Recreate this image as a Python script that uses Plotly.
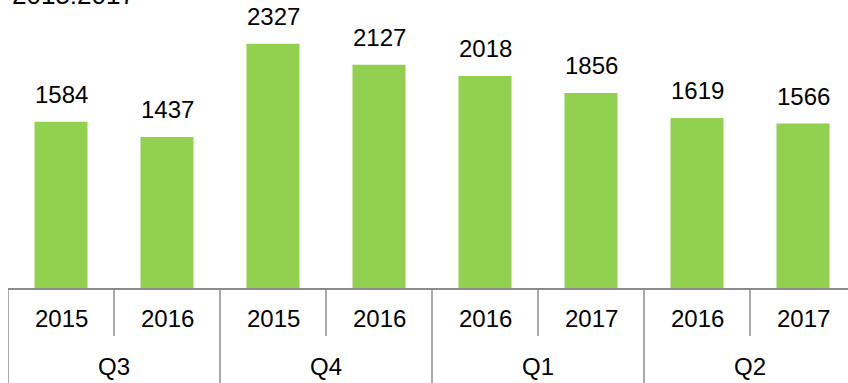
import plotly.graph_objects as go

# Quarterly figures, grouped by quarter then year
quarters = ["Q3", "Q3", "Q4", "Q4", "Q1", "Q1", "Q2", "Q2"]
years = ["2015", "2016", "2015", "2016", "2016", "2017", "2016", "2017"]
values = [1584, 1437, 2327, 2127, 2018, 1856, 1619, 1566]
group_labels = ["Q3", "Q4", "Q1", "Q2"]
title_text = "2015:2017"

BAR_COLOR = "#92D050"
LINE_COLOR = "#8C8C8C"
FONT = "Liberation Sans, Arial, sans-serif"

W, H = 848, 383
ML, MB = 8, 95
plot_h = H - MB

x_idx = list(range(len(values)))

fig = go.Figure(
    go.Bar(
        x=x_idx,
        y=values,
        marker=dict(color=BAR_COLOR, line=dict(width=0)),
        hoverinfo="skip",
    )
)

annotations = []
# value labels above bars
for i, v in zip(x_idx, values):
    annotations.append(dict(
        x=i, y=v, xref="x", yref="y", text=str(v), showarrow=False,
        yanchor="bottom", yshift=12, font=dict(size=24, color="black", family=FONT),
    ))


def py(pixel):
    """Pixel row (from top) to paper coordinate of the plot area."""
    return (plot_h - pixel) / plot_h


# year labels
for i, yr in zip(x_idx, years):
    annotations.append(dict(
        x=i, y=py(318), xref="x", yref="paper", text=yr, showarrow=False,
        yanchor="middle", font=dict(size=24, color="black", family=FONT),
    ))
# quarter labels
for g, q in enumerate(group_labels):
    annotations.append(dict(
        x=2 * g + 0.5, y=py(366), xref="x", yref="paper", text=q, showarrow=False,
        yanchor="middle", font=dict(size=24, color="black", family=FONT),
    ))
# heading at the top, running off the upper edge
annotations.append(dict(
    x=0, xref="paper", xanchor="left", xshift=2, y=py(12), yref="paper",
    yanchor="bottom", text=title_text, showarrow=False,
    font=dict(size=26, color="black", family=FONT),
))

shapes = []
# divider lines between years inside a quarter
for b in [0.5, 2.5, 4.5, 6.5]:
    shapes.append(dict(type="line", xref="x", yref="paper", x0=b, x1=b,
                       y0=0, y1=py(336), line=dict(color=LINE_COLOR, width=1.5)))
# divider lines between quarters (full height)
for b in [-0.5, 1.5, 3.5, 5.5]:
    shapes.append(dict(type="line", xref="x", yref="paper", x0=b, x1=b,
                       y0=0, y1=py(H + 2), line=dict(color=LINE_COLOR, width=1.5)))

cat_w = 106
x_max = -0.5 + (W - ML) / cat_w

fig.update_layout(
    width=W, height=H,
    margin=dict(l=ML, r=0, t=0, b=MB),
    paper_bgcolor="white", plot_bgcolor="white",
    bargap=0.5, showlegend=False,
    xaxis=dict(range=[-0.5, x_max], showticklabels=False, ticks="",
               showgrid=False, zeroline=False, showline=True,
               linecolor=LINE_COLOR, linewidth=1.5),
    yaxis=dict(range=[0, plot_h / 0.105], visible=False, showgrid=False),
    annotations=annotations,
    shapes=shapes,
)

fig.write_html("out.html")
